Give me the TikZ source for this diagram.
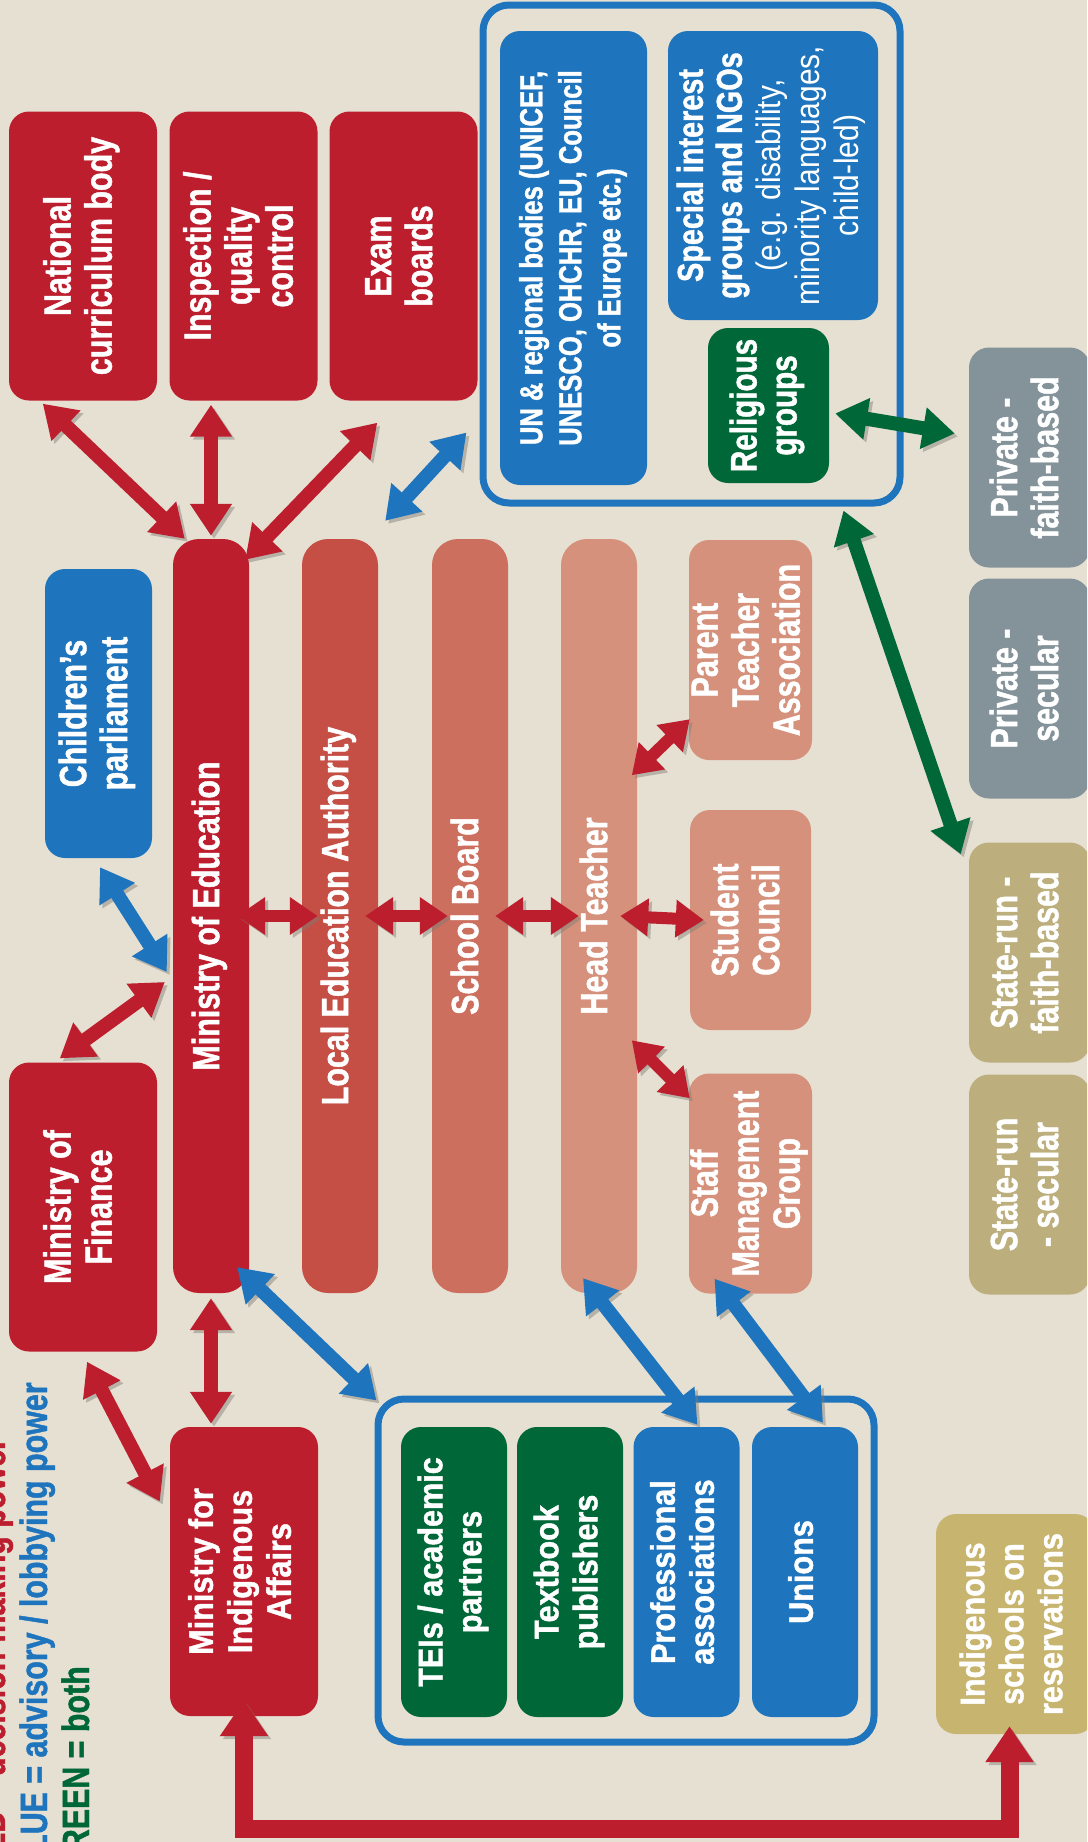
\documentclass[tikz,border=0pt]{standalone}
\usepackage{fontspec}
\usepackage{graphicx}
\usetikzlibrary{arrows.meta, calc}
\setmainfont{Liberation Sans}
\newfontfamily\condf[FakeStretch=0.8, FakeBold=1.2]{Liberation Sans}
\newfontfamily\midf[FakeStretch=0.9, FakeBold=1.2]{Liberation Sans}
\newfontfamily\thinf[FakeStretch=0.88]{Liberation Sans}

\definecolor{bgbeige}{RGB}{230,224,210}
\definecolor{dred}{RGB}{189,30,46}
\definecolor{leared}{RGB}{197,78,69}
\definecolor{sbred}{RGB}{205,111,94}
\definecolor{htred}{RGB}{213,145,123}
\definecolor{dblue}{RGB}{31,117,189}
\definecolor{dgreen}{RGB}{0,104,56}
\definecolor{slate}{RGB}{132,147,154}
\definecolor{khaki}{RGB}{188,175,125}
\definecolor{sand}{RGB}{199,180,111}

% text set upwards inside a box
\newcommand{\vtext}[1]{\rotatebox{90}{\begin{tabular}{@{}c@{}}#1\end{tabular}}}
\newcommand{\thinlbl}{\thinf\mdseries\fontsize{34}{39}\selectfont}

\begin{document}
\begin{tikzpicture}[
    x=1pt, y=-1pt,
    % Blocks
    block/.style={rounded corners=20pt, inner sep=0pt, text=white,
                  font=\condf\bfseries\fontsize{38}{41}\selectfont},
    redblock/.style  ={block, fill=dred, minimum width=148pt, minimum height=289pt},
    bar/.style       ={block, rounded corners=26pt, minimum width=76pt, minimum height=754pt},
    pinkblock/.style ={block, fill=htred, minimum width=121pt, minimum height=220pt},
    sideblock/.style ={block, minimum width=121pt, minimum height=220pt},
    memberblock/.style={block, wide, minimum width=106pt, minimum height=290pt},
    wide/.style      ={font=\midf\bfseries\fontsize{34}{39}\selectfont},
    groupbox/.style  ={draw=dblue, line width=7pt, rounded corners=26pt},
    legend/.style    ={rotate=90, anchor=base west, inner sep=0pt,
                       font=\condf\bfseries\fontsize{38}{41}\selectfont},
    % Arrows
    shade/.style={preaction={draw=bgbeige!55!black, opacity=0.45,
                  transform canvas={shift={(3pt,-3pt)}}}},
    wireR/.style={shade, draw=dred, line width=14pt,
                  arrows={Triangle[width=40pt,length=32pt]-Triangle[width=40pt,length=32pt]}},
    wireS/.style={shade, draw=dred, line width=12pt,
                  arrows={Triangle[width=36pt,length=28pt]-Triangle[width=36pt,length=28pt]}},
    wireB/.style={wireR, draw=dblue},
    wireG/.style={wireR, draw=dgreen}
]

\useasboundingbox (0,0) rectangle (1087,1842);
\clip (0,0) rectangle (1087,1842);
\fill[bgbeige] (0,0) rectangle (1087,1842);

% --------------------------- Top row ---------------------------------
\node[redblock] (ncb)  at (83,256)    {\vtext{National\\curriculum body}};
\node[redblock] (insp) at (243.5,256) {\vtext{Inspection /\\quality\\control}};
\node[redblock] (exam) at (403.5,256) {\vtext{Exam\\boards}};

% International group
\node[groupbox, minimum width=417pt, minimum height=498pt] (intl) at (691.5,254) {};
\node[block, fill=dblue, minimum width=147pt, minimum height=454pt,
      font=\condf\bfseries\fontsize{32}{39}\selectfont] (un) at (573.5,258)
     {\vtext{UN \& regional bodies (UNICEF,\\UNESCO, OHCHR, EU, Council\\of Europe etc.)}};
\node[block, fill=dblue, minimum width=210pt, minimum height=289pt,
      font=\condf\bfseries\fontsize{36}{39}\selectfont] (ngo) at (773,175.5)
     {\vtext{Special interest\\groups and NGOs\\\thinlbl (e.g. disability,\\\thinlbl minority languages,\\\thinlbl child-led)}};
\node[block, fill=dgreen, minimum width=121pt, minimum height=155pt,
      font=\condf\bfseries\fontsize{37}{40}\selectfont] (relig) at (768.5,405.5)
     {\vtext{Religious\\groups}};

% --------------------------- School types ----------------------------
\node[sideblock, fill=slate] (pfaith) at (1029.5,457.5)  {\vtext{Private -\\faith-based}};
\node[sideblock, fill=slate] (psec)   at (1029.5,688.5)  {\vtext{Private -\\secular}};
\node[sideblock, fill=khaki] (sfaith) at (1029.5,952.5)  {\vtext{State-run -\\faith-based}};
\node[sideblock, fill=khaki] (ssec)   at (1029.5,1184.5) {\vtext{State-run\\- secular}};
\node[sideblock, wide, fill=sand, minimum width=159pt] (indig) at (1015.5,1624)
     {\vtext{Indigenous\\schools on\\reservations}};

% --------------------------- Chain of bars ---------------------------
\node[block, fill=dblue, minimum width=107pt, minimum height=289pt] (cp) at (98.5,713.5)
     {\vtext{Children’s\\parliament}};
\node[bar, fill=dred]   (moe) at (211,916) {\vtext{Ministry of Education}};
\node[bar, fill=leared] (lea) at (340,916) {\vtext{Local Education Authority}};
\node[bar, fill=sbred]  (sb)  at (470,916) {\vtext{School Board}};
\node[bar, fill=htred]  (ht)  at (599,916) {\vtext{Head Teacher}};

\node[pinkblock] (pta) at (750.5,650)    {\vtext{Parent\\Teacher\\Association}};
\node[pinkblock] (sc)  at (750.5,920)    {\vtext{Student\\Council}};
\node[pinkblock] (smg) at (750.5,1183.5) {\vtext{Staff\\Management\\Group}};

\node[redblock]       (mof) at (83,1207)    {\vtext{Ministry of\\Finance}};
\node[redblock, wide] (mia) at (244,1571.5) {\vtext{Ministry for\\Indigenous\\Affairs}};

% --------------------------- Partners group --------------------------
\node[groupbox, minimum width=496pt, minimum height=343pt] (grp) at (626,1570.5) {};
\node[memberblock, fill=dgreen] (tei)    at (454,1572)   {\vtext{TEIs / academic\\partners}};
\node[memberblock, fill=dgreen] (pub)    at (570,1572)   {\vtext{Textbook\\publishers}};
\node[memberblock, fill=dblue]  (prof)   at (686.5,1572) {\vtext{Professional\\associations}};
\node[memberblock, fill=dblue]  (unions) at (805,1572)   {\vtext{Unions}};

% Legend
\node[legend, text=dred]   (legR) at (5,1875)  {RED = decision-making power};
\node[legend, text=dblue]  (legB) at (47,1875) {BLUE = advisory / lobbying power};
\node[legend, text=dgreen] (legG) at (89,1875) {GREEN = both};

% ======================== Arrows =====================================

% Red: decision-making
\draw[wireR] ($(ncb.south west)+(34,3)$) -- ($(moe.north west)+(12,0)$);
\draw[wireR] ($(moe.north |- insp.south)+(0,4)$) -- ($(moe.north)+(0,-3)$);
\draw[wireR] ($(exam.south west)+(48,22)$) -- ($(moe.north east)+(-4,21)$);
\draw[wireR] ($(moe.west)+(-8,66)$) -- ($(mof.north west)+(51,-4)$);
\draw[wireR] ($(mof.south)+(4,10)$) -- ($(mia.west)+(-10,-70)$);
\draw[wireR] ($(moe.south)+(0,5)$) -- ($(moe.south |- mia.north)+(0,-3)$);

\draw[wireS] ($(moe.east)+(-12,0)$) -- ($(lea.west)+(16,0)$);
\draw[wireS] ($(lea.east)+(-13,0)$) -- ($(sb.west)+(16,0)$);
\draw[wireS] ($(sb.east)+(-13,0)$)  -- ($(ht.west)+(18,0)$);
\draw[wireS] ($(ht.east)+(-17,0)$)  -- ($(sc.west)+(14,0)$);
\draw[wireS] ($(pta.south west)+(-57,15)$) -- ($(pta.south west)+(1,-41)$);
\draw[wireS] ($(smg.north west)+(-57,-33)$) -- ($(smg.north west)+(1,25)$);

% Red: indigenous loop along the bottom
\draw[wireR, line width=18pt,
      arrows={Triangle[width=46pt,length=36pt]-Triangle[width=46pt,length=36pt]}]
     ($(mia.south)+(0,-16)$) -- ($(mia.south)+(0,113)$) -| ($(indig.south)+(-6,-8)$);

% Blue: advisory / lobbying
\draw[wireB] ($(intl.south west)+(-13,-74)$) -- ($(moe.north east)+(136,-18)$);
\draw[wireB] ($(cp.south)+(1.5,9)$) -- ($(moe.west)+(-6,56)$);
\draw[wireB] ($(moe.south east)+(-12,-26)$) -- ($(grp.north west)+(2,5)$);
\draw[wireB] ($(ht.south)+(-16,-15)$) -- ($(prof.north)+(11,-2)$);
\draw[wireB] ($(smg.south)+(-36,-15)$) -- ($(unions.north)+(18,-4)$);

% Green: both
\draw[wireG] ($(relig.east)+(6,8)$) -- ($(pfaith.west)+(-14,-24)$);
\draw[wireG] ($(intl.south east)+(-60,4)$) -- ($(sfaith.north west)+(-8,12)$);

\end{tikzpicture}
\end{document}
